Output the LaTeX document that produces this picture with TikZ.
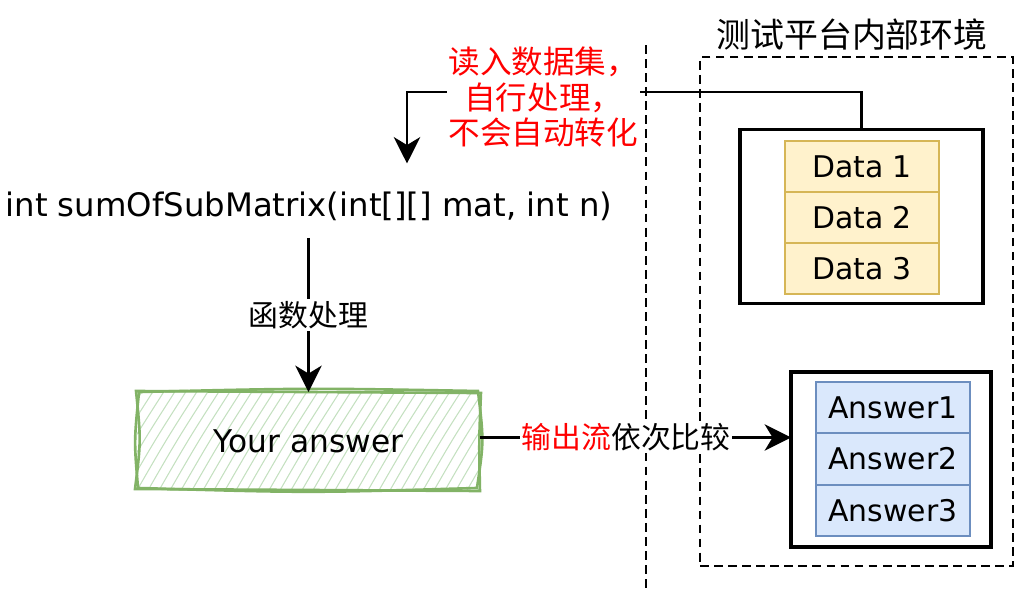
\documentclass[tikz,border=0pt]{standalone}
\usepackage{fontspec}
\usepackage{xcolor}
\setmainfont{Noto Sans CJK SC}
\newfontfamily\sketchfont{DejaVu Sans}
\usetikzlibrary{positioning, arrows.meta, calc, backgrounds}
\definecolor{DataFill}{HTML}{FFF2CC}
\definecolor{DataLine}{HTML}{D6B656}
\definecolor{AnsFill}{HTML}{DAE8FC}
\definecolor{AnsLine}{HTML}{6C8EBF}
\definecolor{SketchLine}{HTML}{82B366}
\definecolor{SketchHatch}{HTML}{C4E0C0}
\newcommand{\diagfont}{\fontsize{17pt}{20.5pt}\selectfont}

\begin{document}
\begin{tikzpicture}[
  x=0.02cm, y=-0.02cm,
  every node/.style={font=\diagfont, inner sep=2pt, outer sep=0pt},
  envbox/.style={draw, dash pattern=on 5pt off 3pt, line width=1.6pt, minimum width=6.26cm, minimum height=10.18cm},
  holder/.style={draw, line width=1.8pt, minimum height=3.48cm},
  dcell/.style={draw=DataLine, fill=DataFill, line width=1.4pt, minimum width=3.08cm, minimum height=1.02cm, font=\diagfont\sketchfont},
  acell/.style={draw=AnsLine, fill=AnsFill, line width=1.4pt, minimum width=3.08cm, minimum height=1.03cm, font=\diagfont\sketchfont},
  lbl/.style={fill=white, inner sep=1pt},
  arr/.style={-{Stealth[length=15pt, width=15pt, inset=4.5pt]}, line width=1.6pt},
  sketch/.style={draw=SketchLine, line width=1.5pt},
  hatch/.style={SketchHatch, line width=0.6pt}
]
  \useasboundingbox (0,0) rectangle (1029,589);

  % Right: test platform
  \node[envbox] (env) at (856.5,311.5) {};
  \node[anchor=south] (envtitle) at (852,54) {\fontsize{19.3pt}{22pt}\selectfont 测试平台内部环境};
  \draw[dash pattern=on 5pt off 3pt, line width=1.6pt] (646,45) coordinate (sepTop) -- (646,589) coordinate (sepBot);

  \node[holder, minimum width=4.86cm] (databox) at (861.5,216.5) {};
  \node[dcell] (data1) at (862,166.5) {Data 1};
  \node[dcell, below=0pt of data1] (data2) {Data 2};
  \node[dcell, below=0pt of data2] (data3) {Data 3};

  \node[holder, minimum width=4.0cm, minimum height=3.5cm] (ansbox) at (891,459.5) {};
  \node[acell] (ans1) at (893,407.5) {Answer1};
  \node[acell, below=0pt of ans1] (ans2) {Answer2};
  \node[acell, below=0pt of ans2] (ans3) {Answer3};

  % Left: function and result
  \node[inner ysep=10pt, font=\fontsize{18.4pt}{21pt}\sketchfont] (sig) at (309,206) {int sumOfSubMatrix(int[][] mat, int n)};
  \node[minimum width=6.86cm, minimum height=1.96cm, font=\fontsize{17.8pt}{21pt}\sketchfont] (answer) at (308.5,441) {Your answer};

  % sketchy outline of the result box
  \draw[sketch] ($(answer.north west)+(2,0)$) .. controls ($(answer.north)+(0,-4)$) .. ($(answer.north east)+(-2,-1)$)
    .. controls ($(answer.east)+(4,0)$) .. ($(answer.south east)+(-3,-2)$)
    .. controls ($(answer.south)+(0,3)$) .. ($(answer.south west)+(1,-2)$)
    .. controls ($(answer.west)+(-3,0)$) .. cycle;
  \draw[sketch] ($(answer.north west)+(-1,-1)$) -- ($(answer.north east)+(1,1)$)
    .. controls ($(answer.east)+(-1,0)$) .. ($(answer.south east)+(0,1)$)
    -- ($(answer.south west)+(-2,-1)$) .. controls ($(answer.west)+(4,0)$) .. cycle;
  \begin{scope}[on background layer]
    \clip (answer.south west) rectangle (answer.north east);
    \foreach \i in {0,11,...,440}
      \draw[hatch] (70+\i,492) .. controls (100+\i,440) .. (132+\i,390);
  \end{scope}

  % Connections
  \coordinate (readturn) at (407,92);
  \draw[arr] (databox.north) |- node[lbl, pos=0.85, yshift=-3pt, align=center, text=red, font=\fontsize{18pt}{20.2pt}\selectfont] {读入数据集，\\自行处理，\\不会自动转化} (readturn) -- ([yshift=6pt]readturn |- sig.north);
  \draw[arr] (sig.south -| answer.north) -- node[lbl] {函数处理} (answer.north);
  \draw[arr] ([yshift=2pt]answer.east) -- node[lbl, pos=0.47] {\textcolor{red}{输出流}依次比较} ([yshift=2pt]answer.east -| ansbox.west);
\end{tikzpicture}
\end{document}
